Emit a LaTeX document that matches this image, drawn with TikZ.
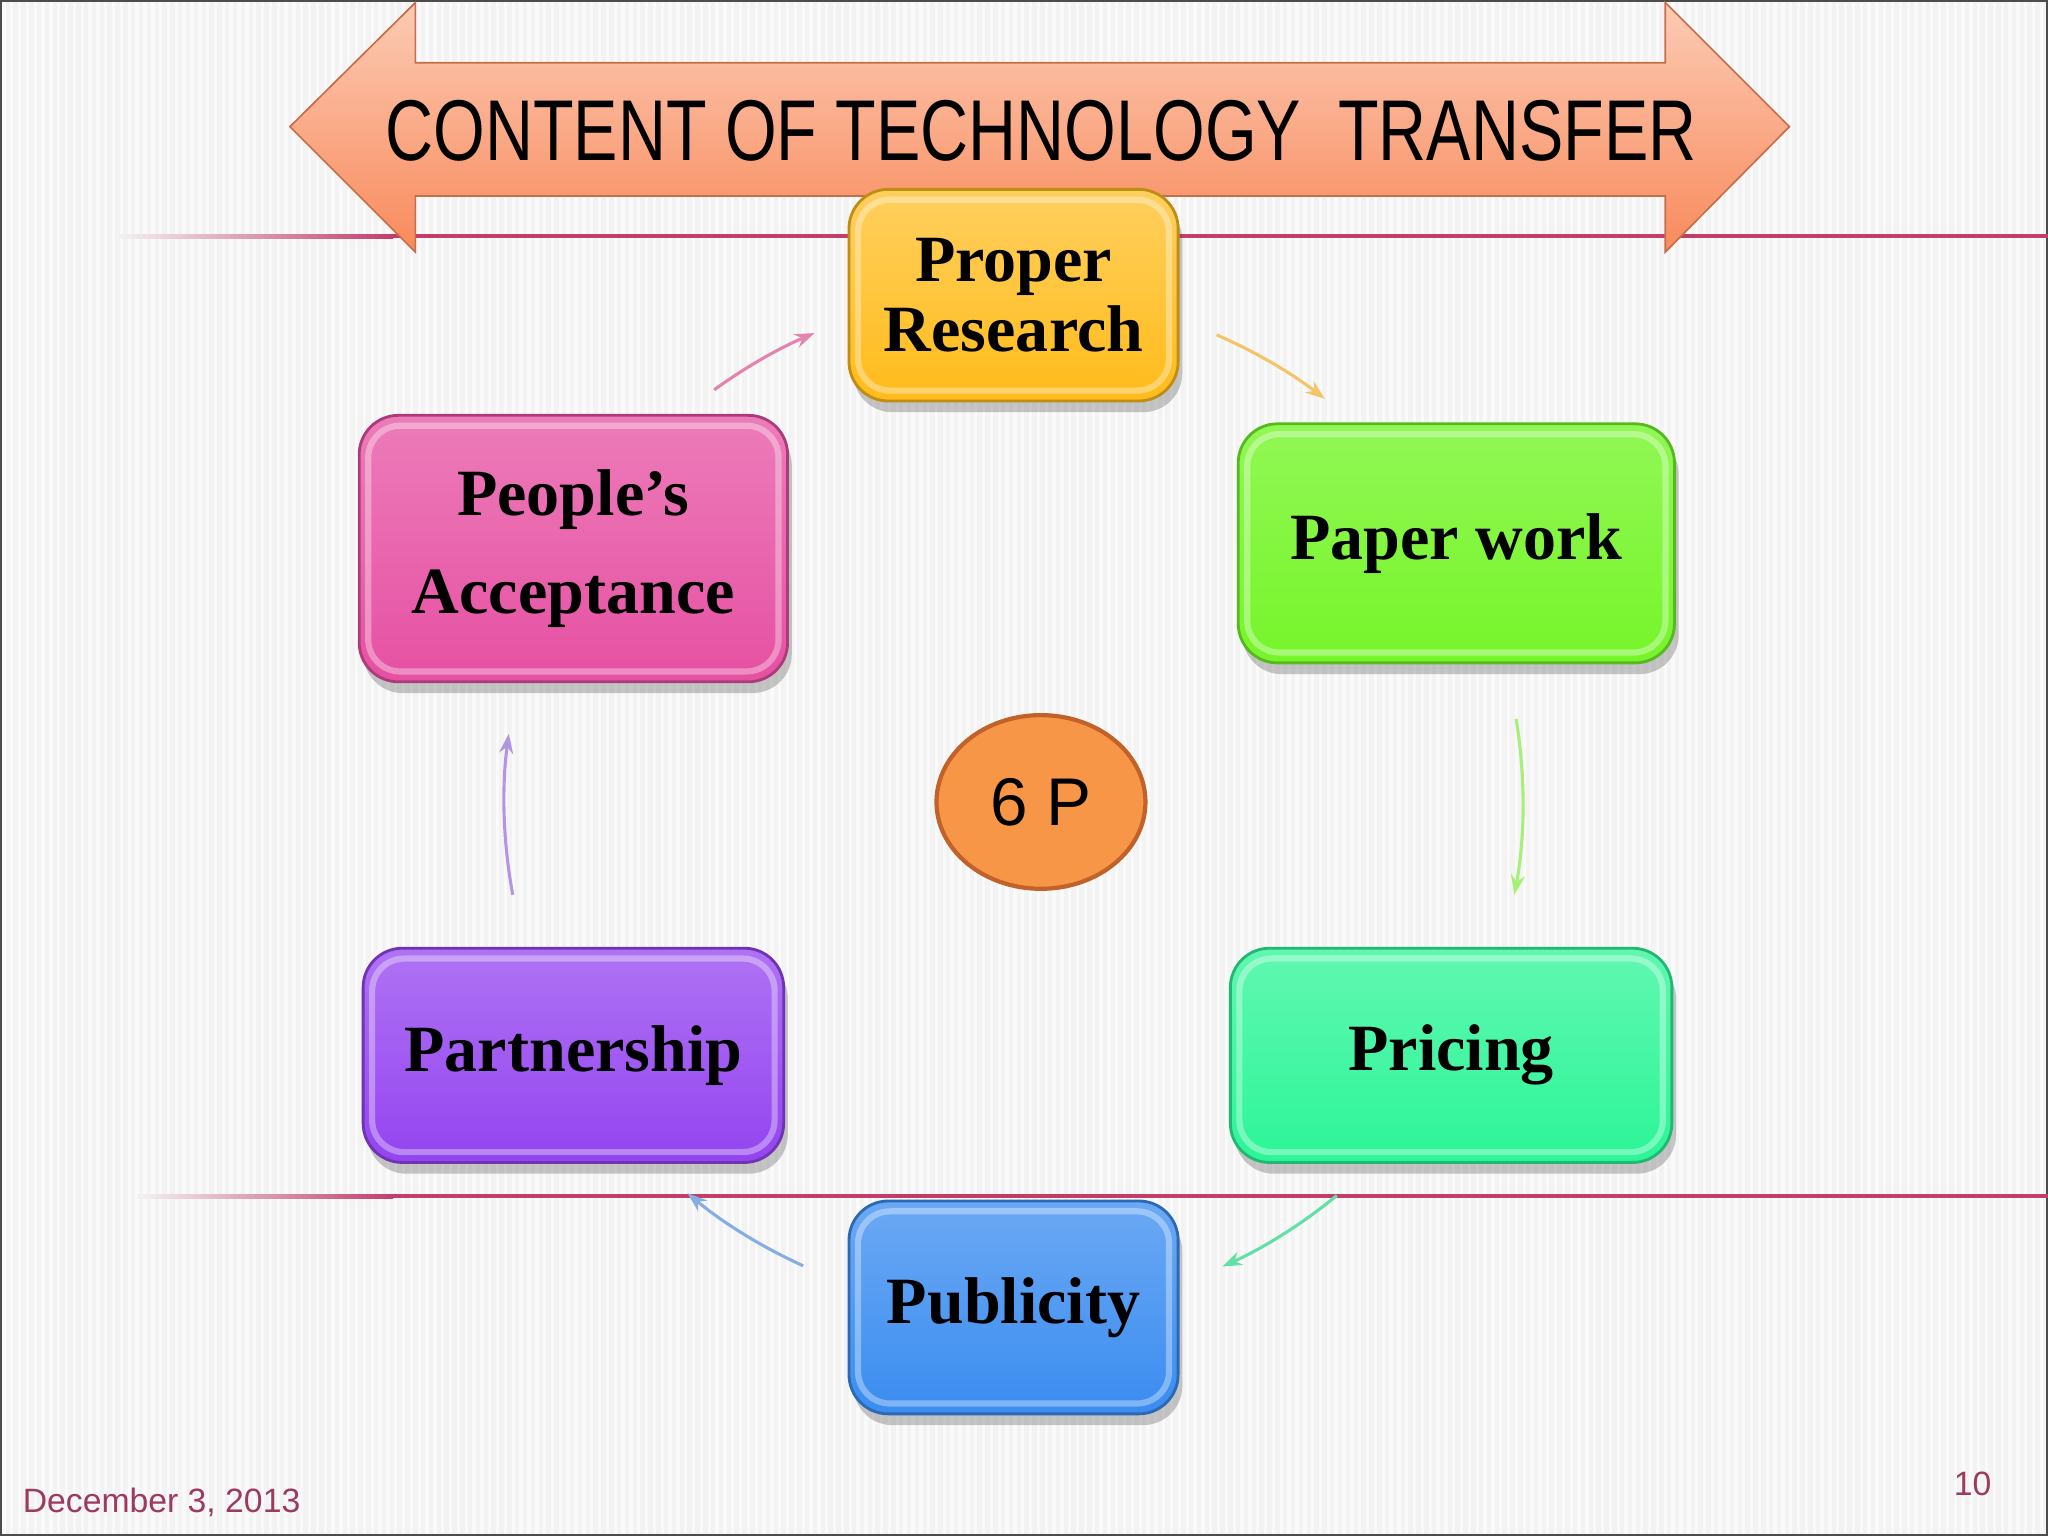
\documentclass[tikz,border=0pt]{standalone}
\usepackage{fontspec}
\setmainfont{Liberation Serif}
\newfontfamily\sansf{Liberation Sans}
\usetikzlibrary{shadows,arrows.meta,calc,shapes.geometric}
\definecolor{bg}{HTML}{F3F3F3}
\definecolor{rule}{HTML}{C23E68}
\definecolor{foot}{HTML}{9C3A60}
\definecolor{arrtop}{HTML}{FCCBB4}
\definecolor{arrbot}{HTML}{F88A5C}
\definecolor{cPR}{HTML}{FFBB1A}
\definecolor{cPW}{HTML}{76F52A}
\definecolor{cPRI}{HTML}{2CF597}
\definecolor{cPUB}{HTML}{3A8CF0}
\definecolor{cPART}{HTML}{9444F0}
\definecolor{cPEO}{HTML}{E650A2}
\definecolor{sixp}{HTML}{F79646}
\definecolor{sixpb}{HTML}{C0622A}
\definecolor{aPink}{HTML}{E383AE}
\definecolor{aYel}{HTML}{F4C468}
\definecolor{aGrn}{HTML}{A6EF78}
\definecolor{aTeal}{HTML}{64E0A6}
\definecolor{aBlue}{HTML}{86AEE2}
\definecolor{aPur}{HTML}{B296E2}
\tikzset{
  pbox/.style={rounded corners=0.49cm, draw=#1!75!black, line width=1pt,
    align=center, inner sep=2pt,
    font=\bfseries\fontsize{23.5}{24.8}\selectfont,
    drop shadow={shadow xshift=1.5pt, shadow yshift=-4pt, opacity=0.3, fill=black!70}},
  glint/.style={draw=white, opacity=0.35, line width=2.2pt, rounded corners=0.4cm},
  cyc/.style={line width=1.1pt, -{Stealth[length=7pt,width=5pt]}},
}
\begin{document}
\begin{tikzpicture}[x=0.016327cm,y=0.016327cm]
\useasboundingbox (0,0) rectangle (1568,1176);
% background
\fill[bg] (0,0) rectangle (1568,1176);
\foreach \i in {3,9,...,1568} \draw[white,line width=1.2pt,opacity=0.6] (\i,0) -- (\i,1176);
\draw[black!70,line width=1.5pt] (0,0) rectangle (1568,1176);
% horizontal rules
\shade[left color=bg,right color=rule] (90,993.5) rectangle (301,996.5);
\fill[rule] (300,993.5) rectangle (1568,996.5);
\shade[left color=bg,right color=rule] (105,258.5) rectangle (301,261.5);
\fill[rule] (300,258.5) rectangle (1568,261.5);
% title double arrow
\shade[top color=arrtop,bottom color=arrbot,draw=arrbot!80!black,line width=0.6pt]
  (222,1079) -- (318,1174) -- (318,1128) -- (1275,1128) -- (1275,1174) -- (1370,1079)
  -- (1275,983) -- (1275,1026) -- (318,1026) -- (318,983) -- cycle;
\node (title) at (797,1076) {\scalebox{0.77}[1]{\sansf\fontsize{30.7}{33}\selectfont CONTENT OF TECHNOLOGY\ \ TRANSFER}};
% boxes
\node[pbox=cPR, top color=cPR!70!white, bottom color=cPR, minimum width=4.114cm, minimum height=2.645cm] (pr) at (776,950) {Proper\\Research};
\node[pbox=cPW, top color=cPW!80!white, bottom color=cPW, minimum width=5.453cm, minimum height=2.988cm] (pw) at (1115,760) {Paper work};
\node[pbox=cPRI, top color=cPRI!75!white, bottom color=cPRI, minimum width=5.519cm, minimum height=2.678cm] (pri) at (1111,368) {Pricing};
\node[pbox=cPUB, top color=cPUB!75!white, bottom color=cPUB, minimum width=4.114cm, minimum height=2.661cm] (pub) at (776,175) {Publicity};
\node[pbox=cPART, top color=cPART!75!white, bottom color=cPART, minimum width=5.257cm, minimum height=2.678cm] (part) at (439,368) {Partnership};
\node[pbox=cPEO, top color=cPEO!75!white, bottom color=cPEO, minimum width=5.355cm, minimum height=3.331cm, font=\bfseries\fontsize{23.5}{34.6}\selectfont] (peo) at (439,756) {People’s\\Acceptance};
% glassy inner highlight
\foreach \n in {pr,pw,pri,pub,part,peo}
  \draw[glint] ([shift={(8,-9)}]\n.north west) rectangle ([shift={(-8,9)}]\n.south east);
% centre ellipse
\node[ellipse, draw=sixpb, line width=1.5pt, fill=sixp, minimum width=2.612cm, minimum height=2.171cm, inner sep=0pt, font=\sansf\fontsize{24}{26}\selectfont] (six) at (797,562) {6 P};
% cycle arrows (arcs on a circle round c)
\coordinate (c) at (776,562);
\draw[cyc, aPink] ([shift={(126:6.367cm)}]c) arc[start angle=126, end angle=113, radius=6.367cm];
\draw[cyc, aYel] ([shift={(66.5:6.367cm)}]c) arc[start angle=66.5, end angle=52.3, radius=6.367cm];
\draw[cyc, aGrn] ([shift={(9.4:6.367cm)}]c) arc[start angle=9.4, end angle=-10.5, radius=6.367cm];
\draw[cyc, aTeal] ([shift={(-50.6:6.367cm)}]c) arc[start angle=-50.6, end angle=-65.8, radius=6.367cm];
\draw[cyc, aBlue] ([shift={(-114.4:6.367cm)}]c) arc[start angle=-114.4, end angle=-129.8, radius=6.367cm];
\draw[cyc, aPur] ([shift={(190.5:6.367cm)}]c) arc[start angle=190.5, end angle=172.3, radius=6.367cm];
% footer
\node[anchor=base west, inner sep=0pt, text=foot, font=\sansf\fontsize{12}{13}\selectfont] (date) at (17,18) {December 3, 2013};
\node[anchor=base east, inner sep=0pt, text=foot, font=\sansf\fontsize{12}{13}\selectfont] (pg) at (1525,31) {10};
\end{tikzpicture}
\end{document}
